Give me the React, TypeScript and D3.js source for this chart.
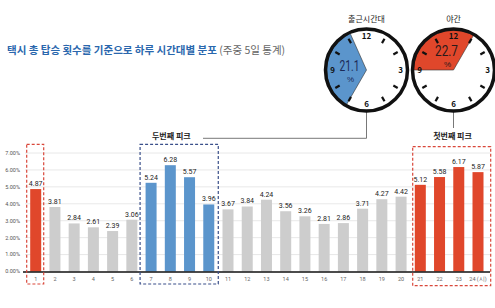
import React from 'react';
import * as d3 from 'd3';

// hourly share of total taxi rides (weekdays)
const hours = d3.range(1, 25);
const shares = [4.87, 3.81, 2.84, 2.61, 2.39, 3.06, 5.24, 6.28, 5.57, 3.96, 3.67, 3.84,
  4.24, 3.56, 3.26, 2.81, 2.86, 3.71, 4.27, 4.42, 5.12, 5.58, 6.17, 5.87];
const redHours = [1, 21, 22, 23, 24];
const blueHours = [7, 8, 9, 10];
const yTicks = [0, 1, 2, 3, 4, 5, 6, 7];

// clocks: label, share, wedge from/to (clock hour)
const clockLabels = ['출근시간대', '야간'];
const clockShares = ['21.1', '22.7'];
const clockFrom = [7, 9];
const clockTo = [11.2, 13];

const RED = '#e0472b';
const BLUE = '#5b95cc';
const GRAY = '#cdcdcd';
const FONT = "'Noto Sans CJK KR', 'Noto Sans', sans-serif";
const NARROW = "'Liberation Sans Narrow', 'Roboto', 'Liberation Sans', sans-serif";

// where the share text sits inside each clock
const textPos = [[-17, 1], [-7, -14]];

const Clock: React.FC<{ cx: number; cy: number; idx: number }> = ({ cx, cy, idx }) => {
  const r = 41;
  const a = (h: number) => (h / 12) * 2 * Math.PI;
  const wedge = d3.arc()({
    innerRadius: 0, outerRadius: r - 1, startAngle: a(clockFrom[idx]), endAngle: a(clockTo[idx]),
  } as any) || '';
  const fill = idx === 0 ? BLUE : RED;
  const txtColor = idx === 0 ? '#1b2a57' : '#2a1a1a';
  const [tx, ty] = textPos[idx];
  return (
    <g transform={`translate(${cx},${cy})`}>
      <text y={-48} textAnchor="middle" fontSize={8} fill="#222" fontFamily={FONT}>{clockLabels[idx]}</text>
      <circle r={r} fill="#fff" />
      <path d={wedge} fill={fill} stroke="#333" strokeWidth={0.6} />
      <circle r={r} fill="none" stroke="#111" strokeWidth={3.5} />
      {d3.range(1, 13).map((h) => {
        const ang = a(h);
        if (h % 3 === 0) {
          return (
            <text key={h} x={Math.sin(ang) * 34} y={-Math.cos(ang) * 34} dy="0.35em"
              textAnchor="middle" fontSize={8} fontWeight="bold" fill="#111" fontFamily={FONT}>{h}</text>
          );
        }
        return (
          <line key={h} x1={Math.sin(ang) * 31} y1={-Math.cos(ang) * 31}
            x2={Math.sin(ang) * 36} y2={-Math.cos(ang) * 36} stroke="#111" strokeWidth={2.2} />
        );
      })}
      <text x={tx} y={ty} textAnchor="middle" fontSize={14} fill={txtColor} fontFamily={NARROW}
        textLength={idx === 0 ? 20 : 23} lengthAdjust="spacingAndGlyphs">{clockShares[idx]}</text>
      <text x={tx + 1} y={ty + 11} textAnchor="middle" fontSize={8} fill={txtColor}
        fontFamily="'Liberation Sans', sans-serif">%</text>
    </g>
  );
};

export default function App() {
  const width = 495;
  const height = 308;

  const x = d3.scalePoint<number>().domain(hours).range([35.7, 478]);
  const y = d3.scaleLinear().domain([0, 7]).range([271.5, 153]);
  const barW = 11;

  const color = (h: number) => (redHours.includes(h) ? RED : blueHours.includes(h) ? BLUE : GRAY);

  const c1x = 366.5, c2x = 453.5, cy = 70;

  return (
    <svg width={width} height={height} style={{ position: 'absolute', left: 0, top: 0, background: '#fff' }}>
      {/* title */}
      <text x={7} y={54} fontSize={10.5} fontFamily={FONT}>
        <tspan fill="#2a67ad" fontWeight="bold">택시 총 탑승 횟수를 기준으로 하루 시간대별 분포</tspan>
        <tspan fill="#666"> (주중 5일 통계)</tspan>
      </text>

      {/* grid + y labels */}
      {yTicks.map((t) => (
        <g key={t}>
          {t > 0 && <line x1={25} x2={490} y1={y(t)} y2={y(t)} stroke="#e2e2e2" strokeWidth={0.8} />}
          <text x={20} y={y(t)} dy="0.35em" textAnchor="end" fontSize={5.5} fill="#555" fontFamily={NARROW}>
            {t.toFixed(2)}%
          </text>
        </g>
      ))}

      {/* bars */}
      {hours.map((h, i) => (
        <g key={h}>
          <rect x={x(h)! - barW / 2} y={y(shares[i])} width={barW} height={y(0) - y(shares[i])} fill={color(h)} />
          <text x={x(h)!} y={y(shares[i]) - 3} textAnchor="middle" fontSize={7} fill="#222" fontFamily={NARROW}>
            {shares[i].toFixed(2)}
          </text>
          <text x={x(h)!} y={281} textAnchor="middle" fontSize={5.5} fill="#666" fontFamily={NARROW}>
            {h === 24 ? '24 (시)' : h}
          </text>
        </g>
      ))}
      <line x1={23} x2={490} y1={y(0) + 0.5} y2={y(0) + 0.5} stroke="#111" strokeWidth={1.5} />

      {/* peak boxes */}
      <rect x={x(1)! - 9} y={144.3} width={17} height={139.7} fill="none" stroke="#d9473a" strokeWidth={1.2} strokeDasharray="3,2" />
      <rect x={x(7)! - 11} y={144.3} width={x(10)! - x(7)! + 20.5} height={139.7} fill="none" stroke="#3a4f8a" strokeWidth={1.2} strokeDasharray="3,2" />
      <rect x={x(21)! - 7.6} y={146.7} width={x(24)! - x(21)! + 20.3} height={139} fill="none" stroke="#d9473a" strokeWidth={1.2} strokeDasharray="3,2" />

      {/* connectors */}
      <polyline points={`203,138.3 ${c1x},138.3 ${c1x},${cy + 41}`} fill="none" stroke="#555" strokeWidth={0.8} />
      <line x1={c2x} x2={c2x} y1={cy + 41} y2={128} stroke="#555" strokeWidth={0.8} />
      <text x={152} y={139} fontSize={8} fontWeight="bold" fill="#222" fontFamily={FONT}>두번째 피크</text>
      <text x={452.5} y={139} textAnchor="middle" fontSize={8} fontWeight="bold" fill="#222" fontFamily={FONT}>첫번째 피크</text>

      <Clock cx={c1x} cy={cy} idx={0} />
      <Clock cx={c2x} cy={cy} idx={1} />
    </svg>
  );
}
